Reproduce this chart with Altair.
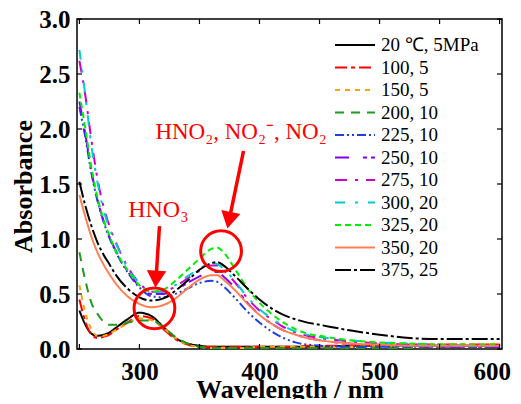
import altair as alt
import pandas as pd

# ---------------- data ----------------
wavelength = [250, 255, 260, 265, 270, 275, 280, 290, 300, 310, 320, 330, 340, 350,
              360, 365, 370, 380, 390, 400, 410, 420, 430, 440, 450, 475, 500, 525,
              550, 575, 600]

a_20_5 = [0.35, 0.22, 0.14, 0.12, 0.13, 0.15, 0.19, 0.27, 0.33, 0.30, 0.20, 0.10, 0.05, 0.03,
          0.02, 0.02, 0.02, 0.02, 0.02, 0.02, 0.02, 0.02, 0.02, 0.02, 0.02, 0.03, 0.03, 0.03,
          0.03, 0.03, 0.03]
a_100_5 = [0.45, 0.25, 0.13, 0.10, 0.11, 0.13, 0.17, 0.24, 0.30, 0.28, 0.18, 0.09, 0.04, 0.02,
           0.02, 0.02, 0.02, 0.02, 0.02, 0.02, 0.02, 0.02, 0.02, 0.03, 0.03, 0.03, 0.03, 0.04,
           0.04, 0.04, 0.04]
a_150_5 = [0.58, 0.33, 0.18, 0.12, 0.12, 0.14, 0.17, 0.23, 0.28, 0.26, 0.19, 0.10, 0.04, 0.02,
           0.01, 0.01, 0.01, 0.01, 0.01, 0.02, 0.02, 0.02, 0.02, 0.02, 0.02, 0.02, 0.03, 0.03,
           0.04, 0.04, 0.05]
a_200_10 = [0.88, 0.62, 0.42, 0.32, 0.25, 0.22, 0.22, 0.24, 0.26, 0.26, 0.20, 0.11, 0.05, 0.02,
            0.01, 0.01, 0.01, 0.01, 0.01, 0.01, 0.01, 0.01, 0.01, 0.01, 0.01, 0.01, 0.01, 0.01,
            0.02, 0.02, 0.02]
a_225_10 = [2.20, 1.92, 1.60, 1.35, 1.16, 1.01, 0.89, 0.70, 0.56, 0.48, 0.47, 0.50, 0.55, 0.60,
            0.62, 0.61, 0.57, 0.46, 0.34, 0.24, 0.16, 0.10, 0.06, 0.04, 0.03, 0.02, 0.02, 0.02,
            0.02, 0.02, 0.02]
a_250_10 = [2.25, 1.95, 1.62, 1.36, 1.17, 1.02, 0.90, 0.71, 0.57, 0.50, 0.50, 0.54, 0.60, 0.66,
            0.70, 0.70, 0.66, 0.55, 0.42, 0.31, 0.23, 0.17, 0.13, 0.10, 0.08, 0.05, 0.04, 0.03,
            0.02, 0.02, 0.02]
a_275_10 = [2.62, 2.30, 1.90, 1.55, 1.30, 1.12, 0.98, 0.75, 0.60, 0.52, 0.52, 0.57, 0.64, 0.71,
            0.76, 0.76, 0.72, 0.60, 0.46, 0.35, 0.27, 0.20, 0.15, 0.12, 0.10, 0.07, 0.05, 0.04,
            0.03, 0.03, 0.03]
a_300_20 = [2.72, 2.30, 1.85, 1.52, 1.27, 1.10, 0.97, 0.74, 0.60, 0.52, 0.52, 0.58, 0.66, 0.73,
            0.78, 0.77, 0.73, 0.61, 0.47, 0.36, 0.28, 0.21, 0.16, 0.13, 0.11, 0.08, 0.06, 0.05,
            0.04, 0.03, 0.03]
a_325_20 = [2.33, 2.00, 1.65, 1.38, 1.18, 1.03, 0.90, 0.72, 0.58, 0.52, 0.54, 0.62, 0.72, 0.82,
            0.91, 0.92, 0.88, 0.72, 0.55, 0.42, 0.32, 0.24, 0.18, 0.14, 0.12, 0.08, 0.06, 0.05,
            0.04, 0.04, 0.04]
a_350_20 = [1.40, 1.20, 1.02, 0.88, 0.77, 0.68, 0.60, 0.48, 0.41, 0.38, 0.40, 0.46, 0.55, 0.63,
            0.67, 0.67, 0.63, 0.53, 0.41, 0.31, 0.23, 0.17, 0.13, 0.10, 0.08, 0.05, 0.04, 0.03,
            0.03, 0.03, 0.03]
a_375_25 = [1.52, 1.30, 1.12, 0.97, 0.86, 0.77, 0.68, 0.55, 0.47, 0.44, 0.46, 0.53, 0.62, 0.72,
            0.78, 0.79, 0.76, 0.66, 0.55, 0.45, 0.37, 0.31, 0.27, 0.24, 0.22, 0.17, 0.13, 0.10,
            0.09, 0.09, 0.09]

series_names = ["20 \u2103, 5MPa", "100, 5", "150, 5", "200, 10", "225, 10", "250, 10",
                "275, 10", "300, 20", "325, 20", "350, 20", "375, 25"]
series_values = [a_20_5, a_100_5, a_150_5, a_200_10, a_225_10, a_250_10,
                 a_275_10, a_300_20, a_325_20, a_350_20, a_375_25]
series_colors = ["#000000", "#ff0000", "#ffa500", "#1f9a1f", "#1f3fe0", "#8000ff",
                 "#cc00cc", "#00cccc", "#00ee00", "#ff7f50", "#000000"]
series_dashes = [[1, 0], [12, 4, 4, 4], [5, 5], [9, 7], [9, 3, 2, 3, 2, 3], [14, 14, 4, 4],
                 [12, 8, 3, 8], [10, 10, 3, 10], [6, 4], [1, 0], [16, 3, 3, 3]]

x_ticks_major = [300, 400, 500, 600]
x_ticks_all = [250, 300, 350, 400, 450, 500, 550, 600]
y_ticks = [0.0, 0.5, 1.0, 1.5, 2.0, 2.5, 3.0]

# annotations
circle_wl = [312.5, 368.0]
circle_abs = [0.37, 0.89]
arrow_wl_from = [316.7, 386.7]
arrow_abs_from = [1.118, 1.80]
arrow_wl_to = [313.8, 374.7]
arrow_abs_to = [0.636, 1.171]
arrow_angle = [3.75, 11.7]
label_texts = ["HNO\u2083", "HNO\u2082, NO\u2082\u207b, NO\u2082"]

# ---------------- build ----------------
rows = []
for name, vals in zip(series_names, series_values):
    for w, a in zip(wavelength, vals):
        rows.append({"series": name, "wavelength": w, "absorbance": a})
df = pd.DataFrame(rows)

W, H = 425, 330
FONT = "Liberation Serif"

x_scale = alt.Scale(domain=[248, 602], nice=False, zero=False)
y_scale = alt.Scale(domain=[0, 3], nice=False, zero=False)

legend = alt.Legend(
    title=None, orient="none", legendX=267, legendY=15, padding=0,
    symbolType="M-2,0L2,0", symbolSize=400, symbolStrokeWidth=2,
    labelFont=FONT, labelFontSize=19, labelColor="black", labelOffset=15,
    rowPadding=1.5, labelLimit=200,
)

axis_style = dict(
    domain=False, ticks=False, grid=False,
    labelFont=FONT, labelFontWeight="bold", labelFontSize=25, labelColor="black",
    titleFont=FONT, titleFontWeight="bold", titleFontSize=26, titleColor="black",
)

lines = alt.Chart(df).mark_line(strokeWidth=2, clip=True, interpolate="monotone").encode(
    x=alt.X("wavelength:Q", scale=x_scale,
            axis=alt.Axis(values=x_ticks_major, title="Wavelength / nm", format="d",
                          labelPadding=10, titleBaseline="alphabetic", titleY=48,
                          labelFlush=5, labelFlushOffset=11,
                          **axis_style)),
    y=alt.Y("absorbance:Q", scale=y_scale,
            axis=alt.Axis(values=y_ticks, title="Absorbance", format=".1f",
                          labelPadding=7, titleX=-46, titleY=167,
                          titleBaseline="alphabetic", titleAngle=270, titleAlign="center",
                          **axis_style)),
    color=alt.Color("series:N", sort=series_names,
                    scale=alt.Scale(domain=series_names, range=series_colors), legend=legend),
    strokeDash=alt.StrokeDash("series:N", sort=series_names,
                              scale=alt.Scale(domain=series_names, range=series_dashes),
                              legend=legend),
)

xt = pd.DataFrame({"wavelength": x_ticks_all})
yt = pd.DataFrame({"absorbance": y_ticks})
tick_top = alt.Chart(xt).mark_rule(color="black", strokeWidth=1.2).encode(
    x=alt.X("wavelength:Q", scale=x_scale), y=alt.value(0), y2=alt.value(5))
tick_bot = alt.Chart(xt).mark_rule(color="black", strokeWidth=1.2).encode(
    x=alt.X("wavelength:Q", scale=x_scale), y=alt.value(H), y2=alt.value(H - 5))
tick_left = alt.Chart(yt).mark_rule(color="black", strokeWidth=1.2).encode(
    y=alt.Y("absorbance:Q", scale=y_scale), x=alt.value(0), x2=alt.value(5))
tick_right = alt.Chart(yt).mark_rule(color="black", strokeWidth=1.2).encode(
    y=alt.Y("absorbance:Q", scale=y_scale), x=alt.value(W), x2=alt.value(W - 5))

circ_df = pd.DataFrame({"wavelength": circle_wl, "absorbance": circle_abs})
circles = alt.Chart(circ_df).mark_point(
    shape="circle", size=1662, filled=False, color="#ff0000", strokeWidth=3, opacity=1
).encode(x=alt.X("wavelength:Q", scale=x_scale), y=alt.Y("absorbance:Q", scale=y_scale))

arr_df = pd.DataFrame({"wavelength": arrow_wl_from, "absorbance": arrow_abs_from,
                       "wavelength2": arrow_wl_to, "absorbance2": arrow_abs_to,
                       "angle": arrow_angle})
arrow_lines = alt.Chart(arr_df).mark_rule(color="#ff0000", strokeWidth=3.5).encode(
    x=alt.X("wavelength:Q", scale=x_scale), y=alt.Y("absorbance:Q", scale=y_scale),
    x2="wavelength2:Q", y2="absorbance2:Q")
arrow_heads = alt.Chart(arr_df).mark_point(
    shape="triangle-down", size=380, filled=True, color="#ff0000", opacity=1
).encode(
    x=alt.X("wavelength2:Q", scale=x_scale), y=alt.Y("absorbance2:Q", scale=y_scale),
    angle=alt.Angle("angle:Q", scale=None))

lab1 = alt.Chart(pd.DataFrame({"wavelength": [315.8], "absorbance": [1.20],
                               "text": [label_texts[0]]})).mark_text(
    font=FONT, fontSize=24, color="#ff0000", align="center", baseline="alphabetic"
).encode(x=alt.X("wavelength:Q", scale=x_scale), y=alt.Y("absorbance:Q", scale=y_scale),
         text="text:N")
lab2 = alt.Chart(pd.DataFrame({"wavelength": [313.3], "absorbance": [1.909],
                               "text": [label_texts[1]]})).mark_text(
    font=FONT, fontSize=23, color="#ff0000", align="left", baseline="alphabetic"
).encode(x=alt.X("wavelength:Q", scale=x_scale), y=alt.Y("absorbance:Q", scale=y_scale),
         text="text:N")

chart = alt.layer(
    lines, tick_top, tick_bot, tick_left, tick_right,
    circles, arrow_lines, arrow_heads, lab1, lab2
).properties(
    width=W, height=H,
    autosize=alt.AutoSizeParams(type="none"),
    padding={"left": 69, "top": 11, "right": 11, "bottom": 50},
).configure_view(
    stroke="black", strokeWidth=1.5
)

chart.save("out.html", embed_options={"renderer": "svg", "actions": False})
